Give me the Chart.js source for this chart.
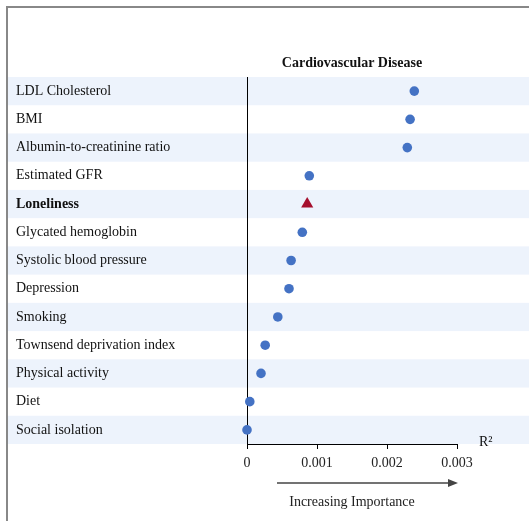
<!DOCTYPE html>
<html>
<head>
<meta charset="utf-8">
<script src="https://cdn.jsdelivr.net/npm/chart.js@4.4.1/dist/chart.umd.min.js"></script>
<style>
  html, body { margin: 0; padding: 0; background: #fff; }
  #wrap { position: absolute; left: 0; top: 0; width: 529px; height: 521px; }
</style>
</head>
<body>
<div id="wrap"><canvas id="cvdChart"></canvas></div>
<script>
var predictors = [
    'LDL Cholesterol', 'BMI', 'Albumin-to-creatinine ratio', 'Estimated GFR',
    'Loneliness', 'Glycated hemoglobin', 'Systolic blood pressure', 'Depression',
    'Smoking', 'Townsend deprivation index', 'Physical activity', 'Diet', 'Social isolation'
];
var rSquared = [0.00239, 0.00233, 0.00229, 0.00089, 0.00086, 0.00079, 0.00063,
    0.00060, 0.00044, 0.00026, 0.00020, 0.00004, 0.00000];
var xTicks = [0, 0.001, 0.002, 0.003];
var highlight = 'Loneliness';

var serif = '"Liberation Serif", "Times New Roman", serif';

// Background bands, frame and extra texts
var decorPlugin = {
    id: 'decor',
    beforeDraw: function(chart) {
        var ctx = chart.ctx, y = chart.scales.y, area = chart.chartArea;
        var half = (area.bottom - area.top) / predictors.length / 2;
        ctx.save();
        ctx.fillStyle = '#edf3fc';
        predictors.forEach(function(p, i) {
            if (i % 2 === 0) {
                var c = y.getPixelForValue(i);
                ctx.fillRect(8, c - half, chart.width - 8, half * 2);
            }
        });
        // frame
        ctx.fillStyle = '#888888';
        ctx.fillRect(6, 6, chart.width - 6, 2);
        ctx.fillRect(6, 6, 2, chart.height - 6);
        ctx.restore();
    },
    afterDraw: function(chart) {
        var ctx = chart.ctx, area = chart.chartArea;
        var mid = (area.left + area.right) / 2;
        ctx.save();
        ctx.fillStyle = '#111';
        ctx.textAlign = 'center';
        ctx.textBaseline = 'middle';
        ctx.font = 'bold 14px ' + serif;
        ctx.fillText('Cardiovascular Disease', mid, 63);
        ctx.font = '14px ' + serif;
        ctx.textAlign = 'left';
        ctx.fillText('R\u00b2', area.right + 22, area.bottom - 2);
        ctx.textAlign = 'center';
        ctx.fillStyle = '#222';
        ctx.fillText('Increasing Importance', mid, 502);
        // arrow
        ctx.strokeStyle = '#444';
        ctx.fillStyle = '#444';
        ctx.lineWidth = 1.5;
        ctx.beginPath();
        ctx.moveTo(277, 483);
        ctx.lineTo(450, 483);
        ctx.stroke();
        ctx.beginPath();
        ctx.moveTo(458, 483);
        ctx.lineTo(448, 479);
        ctx.lineTo(448, 487);
        ctx.closePath();
        ctx.fill();
        ctx.restore();
    }
};

var ctxEl = document.getElementById('cvdChart');
new Chart(ctxEl, {
    type: 'scatter',
    data: {
        datasets: [{
            data: predictors.map(function(p, i) { return { x: rSquared[i], y: p }; }),
            pointStyle: predictors.map(function(p) { return p === highlight ? 'triangle' : 'circle'; }),
            backgroundColor: predictors.map(function(p) { return p === highlight ? '#a50f2d' : '#4472c4'; }),
            borderColor: predictors.map(function(p) { return p === highlight ? '#a50f2d' : '#4472c4'; }),
            borderWidth: 0,
            pointRadius: predictors.map(function(p) { return p === highlight ? 7 : 4.8; }),
            clip: false
        }]
    },
    options: {
        responsive: true,
        maintainAspectRatio: false,
        animation: false,
        layout: { padding: { left: 16, right: 72, top: 77, bottom: 47 } },
        plugins: {
            legend: { display: false },
            tooltip: { enabled: false }
        },
        scales: {
            x: {
                type: 'linear',
                min: 0,
                max: 0.003,
                afterFit: function(scale) { scale.height = 30; },
                afterBuildTicks: function(scale) {
                    scale.ticks = xTicks.map(function(v) { return { value: v }; });
                },
                ticks: {
                    color: '#222',
                    padding: 6,
                    font: { family: serif, size: 14 },
                    callback: function(v) { return String(v); }
                },
                grid: { display: true, drawOnChartArea: false, tickLength: 5, color: '#000' },
                border: { display: true, color: '#000', width: 1 }
            },
            y: {
                type: 'category',
                labels: predictors,
                offset: true,
                afterFit: function(scale) { scale.width = 231; },
                ticks: {
                    color: '#111',
                    crossAlign: 'far',
                    font: function(c) {
                        return {
                            family: serif,
                            size: 14,
                            weight: predictors[c.index] === highlight ? 'bold' : 'normal'
                        };
                    }
                },
                grid: { display: false },
                border: { display: true, color: '#000', width: 1 }
            }
        }
    },
    plugins: [decorPlugin]
});
</script>
</body>
</html>
